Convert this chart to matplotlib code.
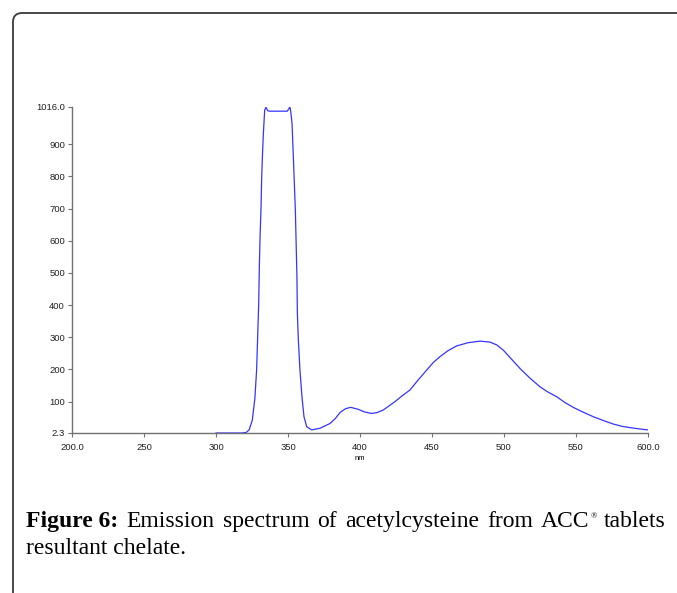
import matplotlib
matplotlib.use("Agg")
import matplotlib.pyplot as plt
import matplotlib.patches as patches

# emission spectrum
wavelength = [300, 310, 318, 321, 323, 325.2, 327, 328.2, 329.6, 330.1, 330.6,
              331.3, 331.7, 332.4, 332.9, 333.8, 334.7, 336.0, 337.5, 345.0,
              349.5, 350.5, 351.4, 352.0, 352.8, 353.7, 354.4, 355.1, 355.6,
              356.2, 356.5, 357.2, 358.3, 359.7, 361.1, 363.0, 366.4, 372.2,
              379.2, 383.0, 386.1, 390.0, 393.5, 398.8, 403.0, 408.0, 412.0,
              416.2, 420.0, 424.3, 429.0, 434.7, 440.0, 446.3, 451.0, 455.6,
              461.0, 467.1, 475.0, 483.3, 490.3, 495.0, 499.5, 505.0, 511.1,
              518.0, 525.0, 530.0, 536.6, 542.0, 548.1, 555.0, 562.0, 569.0,
              576.0, 582.0, 587.5, 594.0, 600.0]
intensity = [2.3, 2.3, 2.3, 4, 12, 42, 110, 198, 395, 519, 613,
             706, 794, 882, 934, 1006, 1015, 1004, 1003, 1003,
             1003, 1010, 1016, 998, 965, 862, 779, 696, 602,
             488, 374, 291, 198, 115, 53, 22, 12, 17,
             32, 48, 66, 78, 82, 76, 68, 63, 66,
             74, 86, 100, 117, 136, 165, 198, 222, 240,
             258, 273, 283, 288, 285, 276, 260, 233, 203,
             173, 146, 131, 115, 98, 82, 67, 53, 41,
             30, 23, 19, 15, 12]

x_ticks = [200, 250, 300, 350, 400, 450, 500, 550, 600]
x_labels = ["200.0", "250", "300", "350", "400", "450", "500", "550", "600.0"]
y_ticks = [2.3, 100, 200, 300, 400, 500, 600, 700, 800, 900, 1016]
y_labels = ["2.3", "100", "200", "300", "400", "500", "600", "700", "800", "900", "1016.0"]

caption_bold = "Figure 6:"
caption_line1 = "Emission spectrum of acetylcysteine from ACC tablets"
caption_line2 = "resultant chelate."

W, H = 677, 593
fig = plt.figure(figsize=(W / 100, H / 100), dpi=100)

# page layer in pixel coordinates
bg = fig.add_axes([0, 0, 1, 1])
bg.set_xlim(0, W)
bg.set_ylim(H, 0)
bg.axis("off")

frame = patches.FancyBboxPatch(
    (13, 13), 700, 640,
    boxstyle="round,pad=0,rounding_size=9",
    facecolor="none", edgecolor="#3a3a3a", linewidth=1.3
)
bg.add_patch(frame)

# plot area
ax = fig.add_axes([72 / W, 1 - 433 / H, (648 - 72) / W, (433 - 107) / H])
ax.plot(wavelength, intensity, color="#3535ff", linewidth=0.9)
ax.set_xlim(200, 600)
ax.set_ylim(2.3, 1016)
ax.set_xticks(x_ticks)
ax.set_xticklabels(x_labels)
ax.set_yticks(y_ticks)
ax.set_yticklabels(y_labels)
for s in ["top", "right"]:
    ax.spines[s].set_visible(False)
for s in ["left", "bottom"]:
    ax.spines[s].set_color("#707070")
    ax.spines[s].set_linewidth(1.0)
ax.tick_params(axis="both", length=3, width=0.8, color="#707070",
               labelsize=6.8, labelcolor="#222222")
ax.tick_params(axis="x", pad=4)
ax.tick_params(axis="y", pad=2)
for lab in ax.get_xticklabels() + ax.get_yticklabels():
    lab.set_family("Liberation Sans")
ax.set_xlabel("nm", fontsize=5.5, family="Liberation Sans", labelpad=2)
ax.patch.set_alpha(0)

# caption, first line justified across the text block
serif = "Liberation Serif"
fs = 17
left, right = 26, 666
base1, base2 = 527, 554
fig.canvas.draw()
renderer = fig.canvas.get_renderer()

words = [(caption_bold, "bold")] + [(w, "normal") for w in caption_line1.split(" ")]
items = []
total = 0
for w, weight in words:
    t = bg.text(0, base1, w, fontsize=fs, family=serif, fontweight=weight,
                ha="left", va="baseline", color="black")
    wdt = t.get_window_extent(renderer).width
    sup = None
    if w == "ACC":
        sup = bg.text(0, base1 - 9, "\u00ae", fontsize=6, family=serif,
                      ha="left", va="baseline", color="black")
        wdt_sup = sup.get_window_extent(renderer).width
        items.append((t, sup, wdt, wdt + wdt_sup))
        total += wdt + wdt_sup
    else:
        items.append((t, None, wdt, wdt))
        total += wdt
gap = (right - left - total) / (len(items) - 1)
x = left
for t, sup, wdt, full in items:
    t.set_x(x)
    if sup is not None:
        sup.set_x(x + wdt + 0.5)
    x += full + gap

bg.text(left, base2, caption_line2, fontsize=fs, family=serif,
        ha="left", va="baseline", color="black")

fig.savefig("out.png", dpi=100)
